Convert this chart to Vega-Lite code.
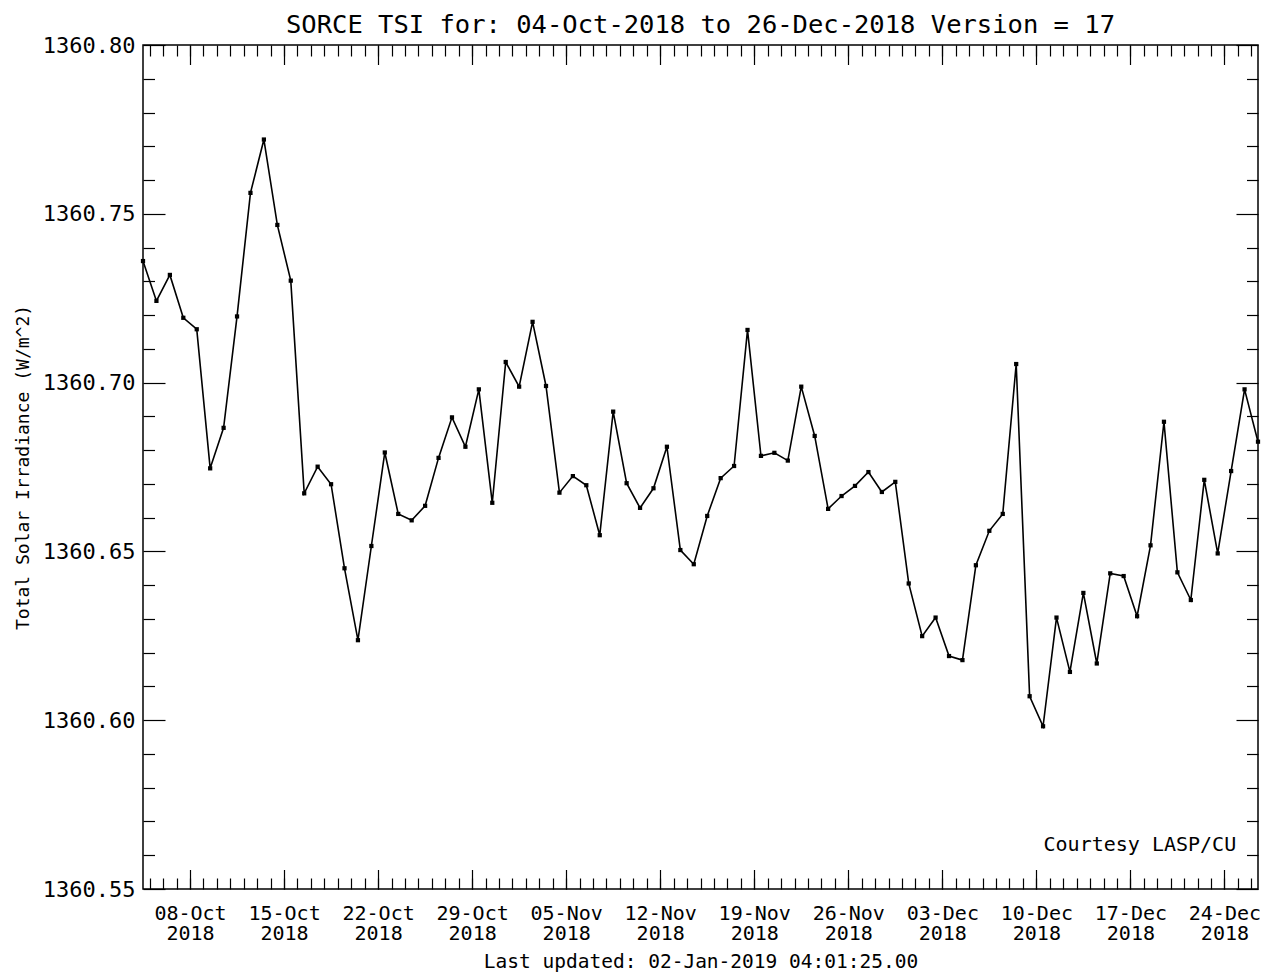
{
  "$schema": "https://vega.github.io/schema/vega-lite/v6.json",
  "width": 1115,
  "height": 844,
  "autosize": {"type": "none"},
  "padding": {"left": 143, "top": 45, "right": 12, "bottom": 85},
  "background": "white",
  "config": {
    "view": {"stroke": "black", "strokeWidth": 1.5},
    "axis": {"domain": false, "grid": false, "tickColor": "black", "tickWidth": 1.2, "labelColor": "black", "titleColor": "black", "labelFont": "DejaVu Sans Mono", "titleFont": "DejaVu Sans Mono", "titleFontWeight": "normal"}
  },
  "title": {
    "text": "SORCE TSI for: 04-Oct-2018 to 26-Dec-2018 Version = 17",
    "font": "DejaVu Sans Mono",
    "fontSize": 25.5,
    "fontWeight": "normal",
    "color": "black",
    "anchor": "middle",
    "frame": "group",
    "baseline": "top",
    "offset": -4
  },
  "data": {"values": [
    {"date": "2018-10-04T12:00:00Z", "tsi": 1360.7360},
    {"date": "2018-10-05T12:00:00Z", "tsi": 1360.7242},
    {"date": "2018-10-06T12:00:00Z", "tsi": 1360.7319},
    {"date": "2018-10-07T12:00:00Z", "tsi": 1360.7192},
    {"date": "2018-10-08T12:00:00Z", "tsi": 1360.7158},
    {"date": "2018-10-09T12:00:00Z", "tsi": 1360.6746},
    {"date": "2018-10-10T12:00:00Z", "tsi": 1360.6866},
    {"date": "2018-10-11T12:00:00Z", "tsi": 1360.7196},
    {"date": "2018-10-12T12:00:00Z", "tsi": 1360.7562},
    {"date": "2018-10-13T12:00:00Z", "tsi": 1360.7720},
    {"date": "2018-10-14T12:00:00Z", "tsi": 1360.7467},
    {"date": "2018-10-15T12:00:00Z", "tsi": 1360.7302},
    {"date": "2018-10-16T12:00:00Z", "tsi": 1360.6672},
    {"date": "2018-10-17T12:00:00Z", "tsi": 1360.6751},
    {"date": "2018-10-18T12:00:00Z", "tsi": 1360.6699},
    {"date": "2018-10-19T12:00:00Z", "tsi": 1360.6450},
    {"date": "2018-10-20T12:00:00Z", "tsi": 1360.6237},
    {"date": "2018-10-21T12:00:00Z", "tsi": 1360.6516},
    {"date": "2018-10-22T12:00:00Z", "tsi": 1360.6793},
    {"date": "2018-10-23T12:00:00Z", "tsi": 1360.6611},
    {"date": "2018-10-24T12:00:00Z", "tsi": 1360.6592},
    {"date": "2018-10-25T12:00:00Z", "tsi": 1360.6635},
    {"date": "2018-10-26T12:00:00Z", "tsi": 1360.6777},
    {"date": "2018-10-27T12:00:00Z", "tsi": 1360.6897},
    {"date": "2018-10-28T12:00:00Z", "tsi": 1360.6810},
    {"date": "2018-10-29T12:00:00Z", "tsi": 1360.6980},
    {"date": "2018-10-30T12:00:00Z", "tsi": 1360.6644},
    {"date": "2018-10-31T12:00:00Z", "tsi": 1360.7061},
    {"date": "2018-11-01T12:00:00Z", "tsi": 1360.6988},
    {"date": "2018-11-02T12:00:00Z", "tsi": 1360.7180},
    {"date": "2018-11-03T12:00:00Z", "tsi": 1360.6990},
    {"date": "2018-11-04T12:00:00Z", "tsi": 1360.6674},
    {"date": "2018-11-05T12:00:00Z", "tsi": 1360.6723},
    {"date": "2018-11-06T12:00:00Z", "tsi": 1360.6696},
    {"date": "2018-11-07T12:00:00Z", "tsi": 1360.6548},
    {"date": "2018-11-08T12:00:00Z", "tsi": 1360.6914},
    {"date": "2018-11-09T12:00:00Z", "tsi": 1360.6702},
    {"date": "2018-11-10T12:00:00Z", "tsi": 1360.6629},
    {"date": "2018-11-11T12:00:00Z", "tsi": 1360.6687},
    {"date": "2018-11-12T12:00:00Z", "tsi": 1360.6810},
    {"date": "2018-11-13T12:00:00Z", "tsi": 1360.6504},
    {"date": "2018-11-14T12:00:00Z", "tsi": 1360.6462},
    {"date": "2018-11-15T12:00:00Z", "tsi": 1360.6605},
    {"date": "2018-11-16T12:00:00Z", "tsi": 1360.6717},
    {"date": "2018-11-17T12:00:00Z", "tsi": 1360.6753},
    {"date": "2018-11-18T12:00:00Z", "tsi": 1360.7156},
    {"date": "2018-11-19T12:00:00Z", "tsi": 1360.6783},
    {"date": "2018-11-20T12:00:00Z", "tsi": 1360.6792},
    {"date": "2018-11-21T12:00:00Z", "tsi": 1360.6769},
    {"date": "2018-11-22T12:00:00Z", "tsi": 1360.6988},
    {"date": "2018-11-23T12:00:00Z", "tsi": 1360.6842},
    {"date": "2018-11-24T12:00:00Z", "tsi": 1360.6626},
    {"date": "2018-11-25T12:00:00Z", "tsi": 1360.6664},
    {"date": "2018-11-26T12:00:00Z", "tsi": 1360.6694},
    {"date": "2018-11-27T12:00:00Z", "tsi": 1360.6735},
    {"date": "2018-11-28T12:00:00Z", "tsi": 1360.6676},
    {"date": "2018-11-29T12:00:00Z", "tsi": 1360.6706},
    {"date": "2018-11-30T12:00:00Z", "tsi": 1360.6405},
    {"date": "2018-12-01T12:00:00Z", "tsi": 1360.6249},
    {"date": "2018-12-02T12:00:00Z", "tsi": 1360.6304},
    {"date": "2018-12-03T12:00:00Z", "tsi": 1360.6190},
    {"date": "2018-12-04T12:00:00Z", "tsi": 1360.6178},
    {"date": "2018-12-05T12:00:00Z", "tsi": 1360.6459},
    {"date": "2018-12-06T12:00:00Z", "tsi": 1360.6561},
    {"date": "2018-12-07T12:00:00Z", "tsi": 1360.6611},
    {"date": "2018-12-08T12:00:00Z", "tsi": 1360.7055},
    {"date": "2018-12-09T12:00:00Z", "tsi": 1360.6071},
    {"date": "2018-12-10T12:00:00Z", "tsi": 1360.5982},
    {"date": "2018-12-11T12:00:00Z", "tsi": 1360.6304},
    {"date": "2018-12-12T12:00:00Z", "tsi": 1360.6143},
    {"date": "2018-12-13T12:00:00Z", "tsi": 1360.6377},
    {"date": "2018-12-14T12:00:00Z", "tsi": 1360.6168},
    {"date": "2018-12-15T12:00:00Z", "tsi": 1360.6435},
    {"date": "2018-12-16T12:00:00Z", "tsi": 1360.6427},
    {"date": "2018-12-17T12:00:00Z", "tsi": 1360.6308},
    {"date": "2018-12-18T12:00:00Z", "tsi": 1360.6518},
    {"date": "2018-12-19T12:00:00Z", "tsi": 1360.6884},
    {"date": "2018-12-20T12:00:00Z", "tsi": 1360.6438},
    {"date": "2018-12-21T12:00:00Z", "tsi": 1360.6356},
    {"date": "2018-12-22T12:00:00Z", "tsi": 1360.6712},
    {"date": "2018-12-23T12:00:00Z", "tsi": 1360.6494},
    {"date": "2018-12-24T12:00:00Z", "tsi": 1360.6738},
    {"date": "2018-12-25T12:00:00Z", "tsi": 1360.6980},
    {"date": "2018-12-26T12:00:00Z", "tsi": 1360.6825}
  ]},
  "layer": [
    {
      "mark": {"type": "line", "color": "black", "strokeWidth": 1.6, "point": {"filled": true, "color": "black", "shape": "square", "size": 18, "opacity": 1}},
      "encoding": {
        "x": {"field": "date", "type": "temporal",
          "scale": {"type": "utc", "domain": [{"year": 2018, "month": 10, "date": 4, "hours": 12, "utc": true}, {"year": 2018, "month": 12, "date": 26, "hours": 12, "utc": true}]},
          "axis": {"orient": "bottom", "ticks": false, "labelFontSize": 20, "labelPadding": 14, "labelLineHeight": 20, "labelOverlap": false, "labelFlush": false,
            "values": [
              {"year": 2018, "month": 10, "date": 8, "utc": true},
              {"year": 2018, "month": 10, "date": 15, "utc": true},
              {"year": 2018, "month": 10, "date": 22, "utc": true},
              {"year": 2018, "month": 10, "date": 29, "utc": true},
              {"year": 2018, "month": 11, "date": 5, "utc": true},
              {"year": 2018, "month": 11, "date": 12, "utc": true},
              {"year": 2018, "month": 11, "date": 19, "utc": true},
              {"year": 2018, "month": 11, "date": 26, "utc": true},
              {"year": 2018, "month": 12, "date": 3, "utc": true},
              {"year": 2018, "month": 12, "date": 10, "utc": true},
              {"year": 2018, "month": 12, "date": 17, "utc": true},
              {"year": 2018, "month": 12, "date": 24, "utc": true}
            ],
            "labelExpr": "[utcFormat(datum.value, '%d-%b'), utcFormat(datum.value, '%Y')]",
            "title": "Last updated: 02-Jan-2019 04:01:25.00", "titleFontSize": 19.5, "titlePadding": 9}},
        "y": {"field": "tsi", "type": "quantitative",
          "scale": {"domain": [1360.55, 1360.80], "zero": false, "nice": false},
          "axis": {"orient": "left", "ticks": false, "labelFontSize": 22, "labelPadding": 8, "format": ".2f",
            "values": [1360.55, 1360.60, 1360.65, 1360.70, 1360.75, 1360.80],
            "title": "Total Solar Irradiance (W/m^2)", "titleFontSize": 18, "titlePadding": 10}}
      }
    },
    {
      "mark": {"type": "line", "opacity": 0},
      "encoding": {
        "x": {"field": "date", "type": "temporal",
          "scale": {"type": "utc", "domain": [{"year": 2018, "month": 10, "date": 4, "hours": 12, "utc": true}, {"year": 2018, "month": 12, "date": 26, "hours": 12, "utc": true}]},
          "axis": {"orient": "bottom", "labels": false, "title": null, "tickSize": -19.5,
            "values": [
              {"year": 2018, "month": 10, "date": 8, "utc": true},
              {"year": 2018, "month": 10, "date": 15, "utc": true},
              {"year": 2018, "month": 10, "date": 22, "utc": true},
              {"year": 2018, "month": 10, "date": 29, "utc": true},
              {"year": 2018, "month": 11, "date": 5, "utc": true},
              {"year": 2018, "month": 11, "date": 12, "utc": true},
              {"year": 2018, "month": 11, "date": 19, "utc": true},
              {"year": 2018, "month": 11, "date": 26, "utc": true},
              {"year": 2018, "month": 12, "date": 3, "utc": true},
              {"year": 2018, "month": 12, "date": 10, "utc": true},
              {"year": 2018, "month": 12, "date": 17, "utc": true},
              {"year": 2018, "month": 12, "date": 24, "utc": true}
            ]}},
        "y": {"field": "tsi", "type": "quantitative",
          "scale": {"domain": [1360.55, 1360.80], "zero": false, "nice": false},
          "axis": {"orient": "left", "labels": false, "title": null, "tickSize": -22,
            "values": [1360.55, 1360.60, 1360.65, 1360.70, 1360.75, 1360.80]}}
      }
    },
    {
      "mark": {"type": "line", "opacity": 0},
      "encoding": {
        "x": {"field": "date", "type": "temporal",
          "scale": {"type": "utc", "domain": [{"year": 2018, "month": 10, "date": 4, "hours": 12, "utc": true}, {"year": 2018, "month": 12, "date": 26, "hours": 12, "utc": true}]},
          "axis": {"orient": "bottom", "labels": false, "title": null, "tickSize": -11, "tickCount": {"interval": "day", "step": 1}}},
        "y": {"field": "tsi", "type": "quantitative",
          "scale": {"domain": [1360.55, 1360.80], "zero": false, "nice": false},
          "axis": {"orient": "left", "labels": false, "title": null, "tickSize": -11.5,
            "values": [1360.56, 1360.57, 1360.58, 1360.59, 1360.61, 1360.62, 1360.63, 1360.64, 1360.66, 1360.67, 1360.68, 1360.69, 1360.71, 1360.72, 1360.73, 1360.74, 1360.76, 1360.77, 1360.78, 1360.79]}}
      }
    },
    {
      "mark": {"type": "line", "opacity": 0},
      "encoding": {
        "x": {"field": "date", "type": "temporal",
          "scale": {"type": "utc", "domain": [{"year": 2018, "month": 10, "date": 4, "hours": 12, "utc": true}, {"year": 2018, "month": 12, "date": 26, "hours": 12, "utc": true}]},
          "axis": {"orient": "top", "labels": false, "title": null, "tickSize": -19.5,
            "values": [
              {"year": 2018, "month": 10, "date": 8, "utc": true},
              {"year": 2018, "month": 10, "date": 15, "utc": true},
              {"year": 2018, "month": 10, "date": 22, "utc": true},
              {"year": 2018, "month": 10, "date": 29, "utc": true},
              {"year": 2018, "month": 11, "date": 5, "utc": true},
              {"year": 2018, "month": 11, "date": 12, "utc": true},
              {"year": 2018, "month": 11, "date": 19, "utc": true},
              {"year": 2018, "month": 11, "date": 26, "utc": true},
              {"year": 2018, "month": 12, "date": 3, "utc": true},
              {"year": 2018, "month": 12, "date": 10, "utc": true},
              {"year": 2018, "month": 12, "date": 17, "utc": true},
              {"year": 2018, "month": 12, "date": 24, "utc": true}
            ]}},
        "y": {"field": "tsi", "type": "quantitative",
          "scale": {"domain": [1360.55, 1360.80], "zero": false, "nice": false},
          "axis": {"orient": "right", "labels": false, "title": null, "tickSize": -22,
            "values": [1360.55, 1360.60, 1360.65, 1360.70, 1360.75, 1360.80]}}
      }
    },
    {
      "mark": {"type": "line", "opacity": 0},
      "encoding": {
        "x": {"field": "date", "type": "temporal",
          "scale": {"type": "utc", "domain": [{"year": 2018, "month": 10, "date": 4, "hours": 12, "utc": true}, {"year": 2018, "month": 12, "date": 26, "hours": 12, "utc": true}]},
          "axis": {"orient": "top", "labels": false, "title": null, "tickSize": -11, "tickCount": {"interval": "day", "step": 1}}},
        "y": {"field": "tsi", "type": "quantitative",
          "scale": {"domain": [1360.55, 1360.80], "zero": false, "nice": false},
          "axis": {"orient": "right", "labels": false, "title": null, "tickSize": -11.5,
            "values": [1360.56, 1360.57, 1360.58, 1360.59, 1360.61, 1360.62, 1360.63, 1360.64, 1360.66, 1360.67, 1360.68, 1360.69, 1360.71, 1360.72, 1360.73, 1360.74, 1360.76, 1360.77, 1360.78, 1360.79]}}
      }
    },
    {
      "data": {"values": [{"label": "Courtesy LASP/CU", "d": "2018-12-24T21:00:00Z", "v": 1360.563}]},
      "mark": {"type": "text", "align": "right", "baseline": "middle", "font": "DejaVu Sans Mono", "fontSize": 20, "color": "black"},
      "encoding": {
        "x": {"field": "d", "type": "temporal",
          "scale": {"type": "utc", "domain": [{"year": 2018, "month": 10, "date": 4, "hours": 12, "utc": true}, {"year": 2018, "month": 12, "date": 26, "hours": 12, "utc": true}]},
          "axis": null},
        "y": {"field": "v", "type": "quantitative", "scale": {"domain": [1360.55, 1360.80], "zero": false, "nice": false}, "axis": null},
        "text": {"field": "label"}
      }
    }
  ],
  "resolve": {"axis": {"x": "independent", "y": "independent"}}
}
